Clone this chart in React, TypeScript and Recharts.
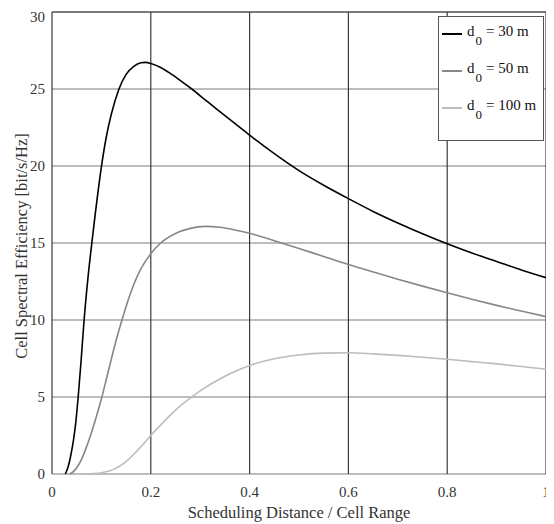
import { CartesianGrid, Legend, Line, LineChart, ReferenceLine, XAxis, YAxis } from "recharts";

const X_TICKS = [0, 0.2, 0.4, 0.6, 0.8, 1];
const Y_TICKS = [0, 5, 10, 15, 20, 25, 30];

// d0 = 30 m
const x30 = [0.027, 0.033, 0.038, 0.043, 0.048, 0.053, 0.059, 0.065, 0.073, 0.081, 0.088, 0.1, 0.11, 0.12, 0.135, 0.15, 0.165, 0.18, 0.19, 0.2, 0.22, 0.24, 0.26, 0.283, 0.31, 0.334, 0.37, 0.4, 0.45, 0.5, 0.55, 0.6, 0.65, 0.7, 0.75, 0.8, 0.85, 0.9, 0.95, 1];
const y30 = [0, 0.5, 1.2, 2.1, 3.3, 5.0, 7.4, 10, 12.8, 15.1, 17.0, 19.95, 21.9, 23.35, 24.95, 25.95, 26.45, 26.7, 26.73, 26.66, 26.4, 26.0, 25.55, 25.0, 24.3, 23.68, 22.77, 22.0, 20.8, 19.7, 18.75, 17.88, 17.05, 16.3, 15.6, 14.95, 14.35, 13.8, 13.25, 12.75];

// d0 = 50 m
const x50 = [0.036, 0.045, 0.052, 0.059, 0.068, 0.078, 0.09, 0.101, 0.11, 0.12, 0.13, 0.143, 0.158, 0.178, 0.2, 0.22, 0.25, 0.28, 0.31, 0.34, 0.37, 0.4, 0.45, 0.5, 0.55, 0.6, 0.65, 0.7, 0.75, 0.8, 0.85, 0.9, 0.95, 1];
const y50 = [0, 0.2, 0.5, 0.9, 1.6, 2.5, 3.75, 5, 6.15, 7.45, 8.7, 10.15, 11.65, 13.2, 14.3, 15.0, 15.62, 15.95, 16.08, 16.02, 15.85, 15.63, 15.15, 14.65, 14.12, 13.6, 13.12, 12.65, 12.2, 11.77, 11.35, 10.95, 10.58, 10.22];

// d0 = 100 m
const x100 = [0.065, 0.08, 0.1, 0.125, 0.15, 0.175, 0.2, 0.225, 0.25, 0.283, 0.3, 0.35, 0.4, 0.45, 0.5, 0.55, 0.6, 0.65, 0.7, 0.75, 0.8, 0.85, 0.9, 0.95, 1];
const y100 = [0, 0.02, 0.08, 0.3, 0.8, 1.6, 2.5, 3.35, 4.15, 5.0, 5.4, 6.35, 7.05, 7.48, 7.73, 7.85, 7.87, 7.8, 7.7, 7.58, 7.45, 7.3, 7.15, 6.98, 6.8];

const SERIES = [
  { name: "30 m", xs: x30, ys: y30, color: "#000000" },
  { name: "50 m", xs: x50, ys: y50, color: "#878787" },
  { name: "100 m", xs: x100, ys: y100, color: "#bdbdbd" },
];

const FONT = "'Liberation Serif', 'Times New Roman', serif";
const tickStyle = { fontFamily: FONT, fontSize: 15, fill: "#333" };

const toPoints = (xs: number[], ys: number[]) => xs.map((x, i) => ({ x, y: ys[i] }));

function LegendBox() {
  return (
    <div
      style={{
        border: "1px solid #555",
        background: "#fff",
        fontFamily: FONT,
        fontSize: 15,
        color: "#111",
        padding: "6px 0 6px 3px",
        width: 106,
        boxSizing: "border-box",
      }}
    >
      {SERIES.map((s) => (
        <div key={s.name} style={{ display: "flex", alignItems: "flex-start", height: 37 }}>
          <span style={{ width: 20, height: 2, background: s.color, marginTop: 10 }} />
          <span style={{ marginLeft: 5 }}>d</span>
          <span style={{ marginTop: 10, marginLeft: 1, fontSize: 13 }}>0</span>
          <span style={{ marginLeft: 4 }}>= {s.name}</span>
        </div>
      ))}
    </div>
  );
}

export default function App() {
  return (
    <LineChart width={546} height={516} margin={{ top: 4, right: 8, left: 0, bottom: 0 }}>
      <CartesianGrid vertical={false} stroke="#7d7d7d" strokeWidth={1.2} />
      <CartesianGrid horizontal={false} stroke="#3a3a3a" strokeWidth={1.2} />
      <ReferenceLine y={30} stroke="#3a3a3a" strokeWidth={1.2} />
      <XAxis
        dataKey="x"
        type="number"
        domain={[0, 1]}
        ticks={X_TICKS}
        allowDuplicatedCategory={false}
        axisLine={false}
        tickLine={false}
        tickSize={0}
        tickMargin={12}
        tick={tickStyle}
        height={50}
        label={{
          value: "Scheduling Distance / Cell Range",
          position: "insideBottom",
          offset: 6,
          style: { fontFamily: FONT, fontSize: 16.5, fill: "#333" },
        }}
      />
      <YAxis
        type="number"
        domain={[0, 30]}
        ticks={Y_TICKS}
        axisLine={false}
        tickLine={false}
        tickSize={0}
        tickMargin={7}
        tick={tickStyle}
        width={44}
        label={{
          content: ({ viewBox }: any) => {
            const cx = 13;
            const cy = viewBox.y + viewBox.height / 2 + 3;
            return (
              <text
                x={cx}
                y={cy}
                transform={`rotate(-90 ${cx} ${cy})`}
                textAnchor="middle"
                dominantBaseline="central"
                style={{ fontFamily: FONT, fontSize: 16.5, fill: "#333" }}
              >
                Cell Spectral Efficiency [bit/s/Hz]
              </text>
            );
          },
        }}
      />
      <Legend
        layout="vertical"
        align="center"
        verticalAlign="middle"
        wrapperStyle={{ top: 8, left: 430, width: 106 }}
        content={() => <LegendBox />}
      />
      {SERIES.map((s) => (
        <Line
          key={s.name}
          data={toPoints(s.xs, s.ys)}
          dataKey="y"
          name={s.name}
          type="monotone"
          stroke={s.color}
          strokeWidth={1.6}
          dot={false}
          isAnimationActive={false}
        />
      ))}
    </LineChart>
  );
}
